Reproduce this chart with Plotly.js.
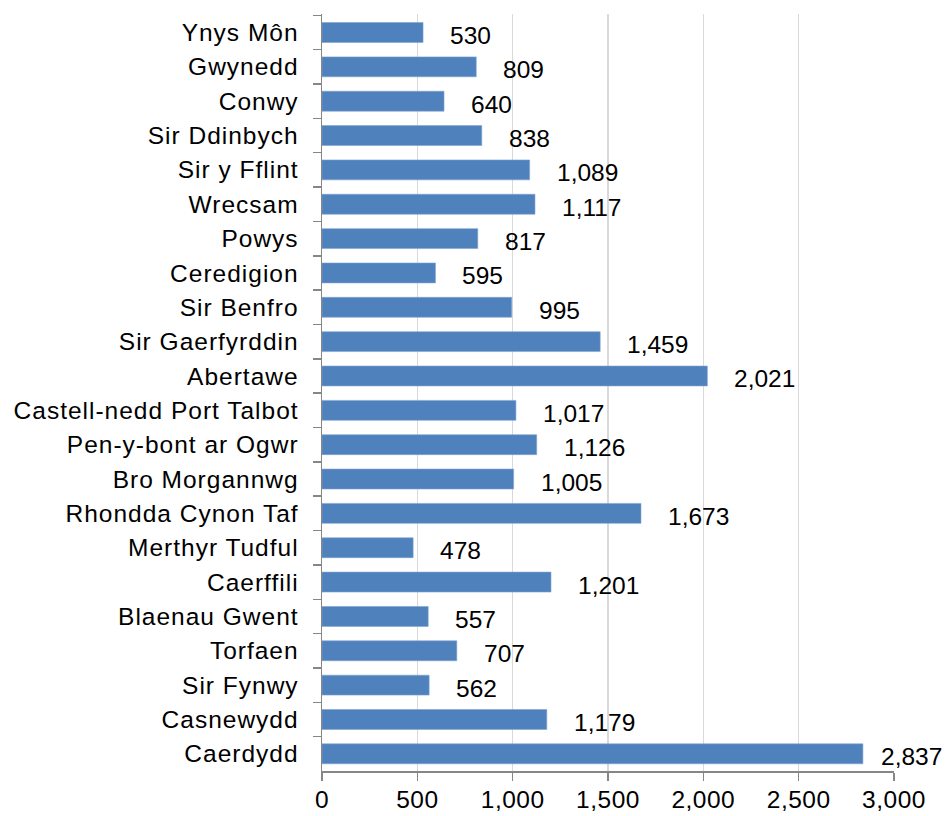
<!DOCTYPE html>
<html>
<head>
<meta charset="utf-8">
<script src="https://cdn.plot.ly/plotly-3.0.1.min.js"></script>
<style>
html,body{margin:0;padding:0;background:#fff;}
#chart{width:946px;height:816px;}
#chart .ytick text{letter-spacing:1px;}
#chart .xtick text{letter-spacing:0.5px;}
</style>
</head>
<body>
<div id="chart"></div>
<script>
const categories = ["Ynys Môn","Gwynedd","Conwy","Sir Ddinbych","Sir y Fflint","Wrecsam","Powys","Ceredigion","Sir Benfro","Sir Gaerfyrddin","Abertawe","Castell-nedd Port Talbot","Pen-y-bont ar Ogwr","Bro Morgannwg","Rhondda Cynon Taf","Merthyr Tudful","Caerffili","Blaenau Gwent","Torfaen","Sir Fynwy","Casnewydd","Caerdydd"];
const values = [530,809,640,838,1089,1117,817,595,995,1459,2021,1017,1126,1005,1673,478,1201,557,707,562,1179,2837];
const xTickVals = [0,500,1000,1500,2000,2500,3000];
const xTickText = ["0","500","1,000","1,500","2,000","2,500","3,000"];

const W = 946, H = 816;
const M = {l: 322, r: 52, t: 14, b: 45};
const XMAX = 3000;
const FONT = "Liberation Sans, Arial, sans-serif";
const LABEL_SIZE = 24.5;

function fmt(v){ return v.toLocaleString('en-US'); }

const cv = document.createElement('canvas').getContext('2d');
cv.font = LABEL_SIZE + 'px "Liberation Sans"';
const plotW = W - M.l - M.r;

const annotations = values.map((v, i) => {
  const txt = fmt(v);
  const w = cv.measureText(txt).width;
  const px = M.l + v / XMAX * plotW;
  let shift = 25;
  if (px + shift + w > W - 6) shift = W - 6 - w - px;
  return {
    x: v, y: categories[i], xref: 'x', yref: 'y',
    text: txt, showarrow: false, xanchor: 'left', yanchor: 'middle',
    xshift: shift, yshift: -3,
    font: {family: FONT, size: LABEL_SIZE, color: '#000'}
  };
});

const trace = {
  type: 'bar', orientation: 'h',
  x: values, y: categories,
  marker: {color: '#4F81BD', line: {color: '#7FA3D0', width: 0.6}},
  hoverinfo: 'none'
};

const layout = {
  width: W, height: H,
  margin: M,
  paper_bgcolor: '#fff', plot_bgcolor: '#fff',
  showlegend: false,
  bargap: 0.42,
  font: {family: FONT, size: 24.5, color: '#000'},
  xaxis: {
    range: [0, XMAX], tickvals: xTickVals, ticktext: xTickText,
    showgrid: true, gridcolor: '#D9D9D9', gridwidth: 1.3,
    zeroline: false, showline: true, linecolor: '#868686', linewidth: 1.5,
    ticks: 'outside', ticklen: 8, tickcolor: '#868686', tickwidth: 1.5,
    ticklabelstandoff: -2,
    tickfont: {family: FONT, size: 24.5, color: '#000'}, fixedrange: true
  },
  yaxis: {
    type: 'category', categoryorder: 'array', categoryarray: categories,
    autorange: 'reversed',
    showgrid: false, zeroline: false, showline: true, linecolor: '#868686', linewidth: 1.5,
    ticks: 'outside', tickson: 'boundaries', ticklen: 8, tickcolor: '#868686', tickwidth: 1.5,
    ticklabelstandoff: 17,
    tickfont: {family: FONT, size: 24.5, color: '#000'}, fixedrange: true
  },
  annotations: annotations
};

Plotly.newPlot('chart', [trace], layout, {staticPlot: true, displayModeBar: false});
</script>
</body>
</html>
